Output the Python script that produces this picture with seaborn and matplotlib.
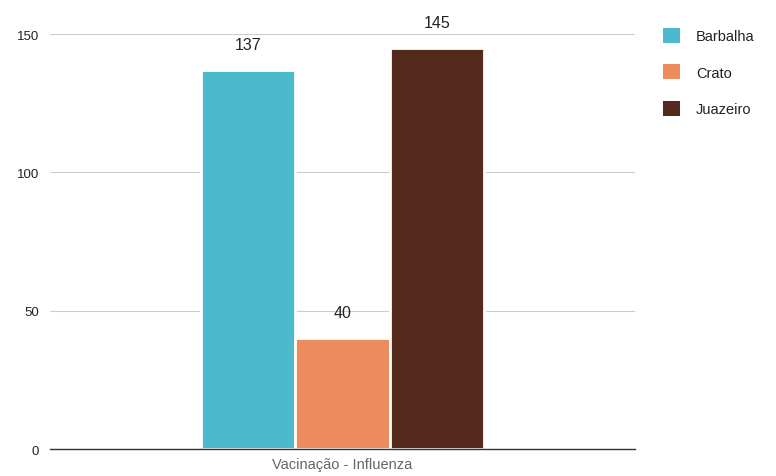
import matplotlib
matplotlib.use("Agg")
import matplotlib.pyplot as plt
import seaborn as sns
import pandas as pd

category = ["Vacinação - Influenza"]
cities = ["Barbalha", "Crato", "Juazeiro"]
values = [137, 40, 145]
colors = ["#4BBACC", "#EE8B5C", "#532A1B"]
yticks = [0, 50, 100, 150]

df = pd.DataFrame({"cat": category * len(cities), "city": cities, "val": values})

sns.set_style("white")
plt.rcParams['font.family'] = ['Liberation Sans', 'DejaVu Sans']

fig = plt.figure(figsize=(7.76, 4.77), dpi=100)
ax = fig.add_axes([0.0644, 0.0566, 0.7536, 0.870])

sns.barplot(data=df, x="cat", y="val", hue="city", hue_order=cities,
            palette=colors, saturation=1, width=0.485, gap=0.0, ax=ax,
            edgecolor="white", linewidth=2, legend=True)

ax.set_ylim(0, 150)
ax.set_xlim(-0.5, 0.5)
ax.set_yticks(yticks)
ax.set_yticklabels([str(t) for t in yticks], fontsize=9.5, color="#222222")
ax.tick_params(axis="y", length=0, pad=8)
ax.tick_params(axis="x", length=0, pad=6, labelsize=10.5, labelcolor="#666666")
ax.set_xlabel("")
ax.set_ylabel("")
ax.yaxis.grid(True, color="#cccccc", linewidth=0.8)
ax.set_axisbelow(True)
for s in ["top", "right", "left"]:
    ax.spines[s].set_visible(False)
ax.spines["bottom"].set_color("#333333")
ax.spines["bottom"].set_linewidth(1.0)

for cont in ax.containers:
    ax.bar_label(cont, padding=13, fontsize=11.5, color="#222222", clip_on=False)

leg = ax.legend(loc="upper left", bbox_to_anchor=(1.025, 1.047), frameon=False,
                fontsize=10.5, handlelength=1.2, handleheight=1.2,
                labelspacing=1.45, handletextpad=1.1)
for h in leg.legend_handles:
    h.set_edgecolor("none")
for t in leg.get_texts():
    t.set_color("#222222")

fig.savefig("out.png", dpi=100)
